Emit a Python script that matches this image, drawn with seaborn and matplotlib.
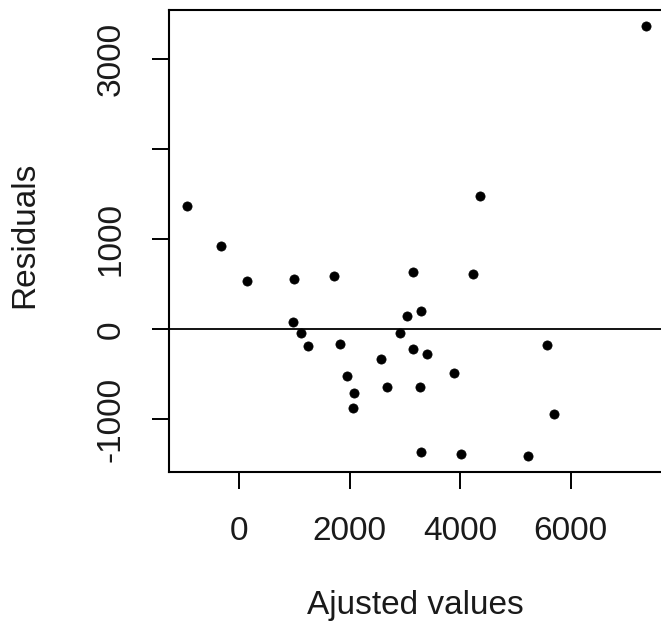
import matplotlib
matplotlib.use("Agg")
import matplotlib.pyplot as plt
import seaborn as sns
import pandas as pd

# Fitted values and residuals of the regression model
fitted = [-935, -331, 139, 995, 1724, 3152, 4237, 4358, 7360, 983,
          1115, 1254, 1826, 1959, 2080, 2068, 2568, 2682, 2911, 3043,
          3285, 3152, 3405, 3273, 3888, 3285, 4009, 5220, 5575, 5696]
residuals = [1370, 925, 537, 556, 592, 640, 611, 1481, 3373, 84,
             -37, -186, -167, -519, -711, -878, -330, -644, -44, 148,
             203, -222, -278, -644, -489, -1360, -1385, -1404, -174, -941]

x_ticks = [0, 2000, 4000, 6000]
y_ticks = [-1000, 0, 1000, 2000, 3000]
y_tick_labels = ["-1000", "0", "1000", "", "3000"]

df = pd.DataFrame({"fitted": fitted, "residuals": residuals})

sns.set_theme(style="ticks")
plt.rcParams["font.family"] = ["Liberation Sans", "DejaVu Sans"]

fig = plt.figure(figsize=(6.61, 6.22), dpi=100)
ax = fig.add_axes([0.2564, 0.2404, 0.7569, 0.7435])

sns.scatterplot(data=df, x="fitted", y="residuals", ax=ax,
                color="black", marker="o", s=44, edgecolor="black",
                linewidth=0.5, zorder=3)
ax.axhline(0, color="black", lw=1.3, zorder=2)

ax.set_xlim(-1257, 7790)
ax.set_ylim(-1591, 3548)

ax.set_xticks(x_ticks)
ax.set_xticklabels([str(t) for t in x_ticks])
ax.set_yticks(y_ticks)
ax.set_yticklabels(y_tick_labels, rotation=90, va="center")

ax.tick_params(axis="both", direction="out", length=12, width=1.4,
               color="black", labelsize=24, labelcolor="#1a1a1a", pad=19)

for side in ["left", "right", "top", "bottom"]:
    ax.spines[side].set_visible(True)
    ax.spines[side].set_color("black")
    ax.spines[side].set_linewidth(1.5)

ax.set_xlabel("Ajusted values", fontsize=24, color="#1a1a1a")
ax.set_ylabel("Residuals", fontsize=24, color="#1a1a1a")
ax.xaxis.label.set_va("baseline")
ax.xaxis.set_label_coords(0.491, -0.305)
ax.yaxis.label.set_va("center")
ax.yaxis.set_label_coords(-0.2888, 0.5135)

fig.savefig("out.png", dpi=100)
